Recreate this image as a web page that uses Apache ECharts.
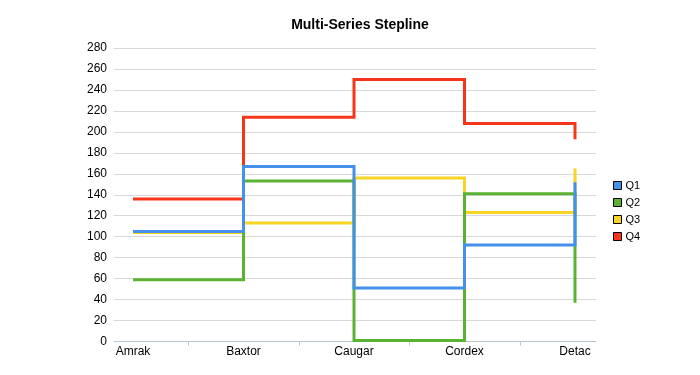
<!DOCTYPE html>
<html>
<head>
<meta charset="utf-8">
<script src="https://cdn.jsdelivr.net/npm/echarts@6/dist/echarts.min.js"></script>
<style>html,body{margin:0;padding:0;background:#fff;}#c{width:700px;height:375px;}</style>
</head>
<body>
<div id="c"></div>
<script>
var categories = ['Amrak', 'Baxtor', 'Caugar', 'Cordex', 'Detac'];
var seriesNames = ['Q1', 'Q2', 'Q3', 'Q4'];
var q1 = [105, 167, 51, 92, 152];
var q2 = [59, 153, 1, 141, 37];
var q3 = [104, 113, 156, 123, 165];
var q4 = [136, 214, 250, 208, 193];
var yTicks = [0, 20, 40, 60, 80, 100, 120, 140, 160, 180, 200, 220, 240, 260, 280];
var colors = ['#4590ea', '#5bb232', '#f8d424', '#f5361a'];

var values = [q1, q2, q3, q4];
var font = '"Liberation Sans", Arial, sans-serif';
var chart = echarts.init(document.getElementById('c'), null, {renderer: 'canvas'});
var series = seriesNames.map(function (name, k) {
  return {
    name: name,
    type: 'line',
    step: 'end',
    showSymbol: false,
    symbol: 'none',
    z: 10 - k,
    lineStyle: {width: 3, color: colors[k], cap: 'butt', join: 'miter'},
    itemStyle: {color: colors[k], borderColor: '#000', borderWidth: 1},
    data: values[k].map(function (v, i) { return [i, v]; })
  };
});
var tickVals = [];
for (var i = 0; i < categories.length - 1; i++) tickVals.push(i + 0.5);
var labelVals = categories.map(function (c, i) { return i; });

chart.setOption({
  animation: false,
  color: colors,
  title: {
    text: 'Multi-Series Stepline',
    left: 355, top: 13, textAlign: 'center',
    textStyle: {fontFamily: font, fontSize: 14, fontWeight: 'bold', color: '#000'}
  },
  legend: {
    orient: 'vertical',
    left: 608, top: 175,
    itemWidth: 8, itemHeight: 8, itemGap: 6,
    icon: 'rect',
    itemStyle: {borderColor: '#000', borderWidth: 1},
    textStyle: {fontFamily: font, fontSize: 11, color: '#000', padding: [0, 0, 0, -1]},
    data: seriesNames
  },
  grid: {left: 114, right: 104, top: 48, bottom: 33.5, containLabel: false},
  xAxis: {
    type: 'value',
    min: (114 - 133) / 110.5,
    max: (596 - 133) / 110.5,
    splitLine: {show: false},
    axisLine: {show: true, lineStyle: {color: '#b9c5d3', width: 1}},
    axisTick: {show: true, customValues: tickVals, length: 4, lineStyle: {color: '#b9c5d3'}},
    axisLabel: {
      customValues: labelVals,
      margin: 4,
      fontFamily: font, fontSize: 12, color: '#000',
      formatter: function (v) { return categories[Math.round(v)] || ''; }
    }
  },
  yAxis: {
    type: 'value',
    min: yTicks[0], max: yTicks[yTicks.length - 1], interval: yTicks[1] - yTicks[0],
    axisLine: {show: false},
    axisTick: {show: false},
    splitLine: {show: true, lineStyle: {color: '#d8d8d8', width: 1}},
    axisLabel: {margin: 7, fontFamily: font, fontSize: 12, color: '#000'}
  },
  series: series
});
</script>
</body>
</html>
